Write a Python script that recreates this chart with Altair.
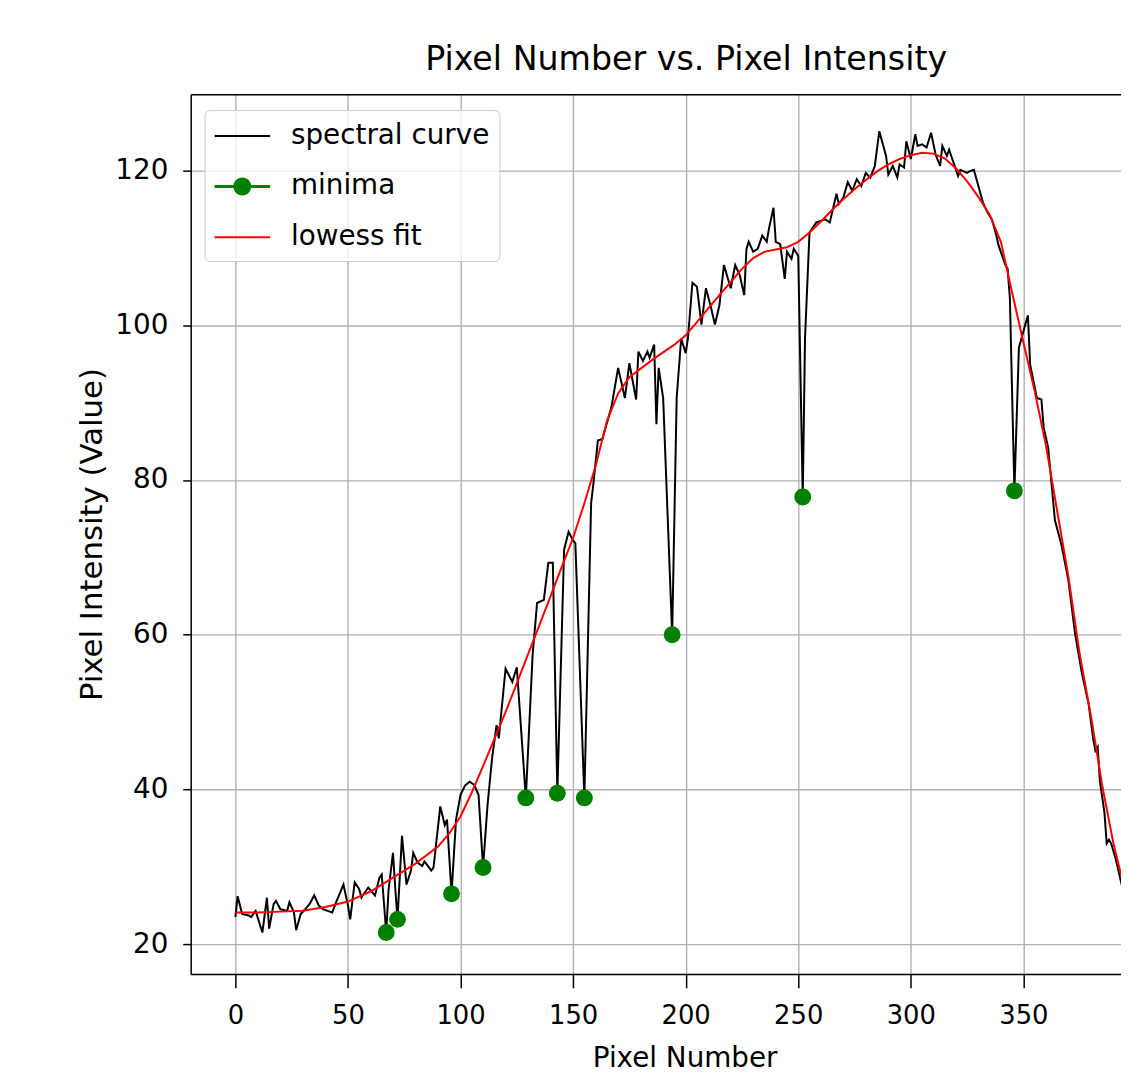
import altair as alt
import pandas as pd

# ---------------- data ----------------
spectral_x = [0, 1, 3, 6, 7, 9, 12, 14, 15, 17, 18, 20, 23, 24, 26, 27, 29, 31, 33, 35,
              37, 39, 41, 43, 45, 48, 50, 51, 53, 55, 56, 58, 59, 62, 64, 65, 67, 68, 70, 71,
              72, 74, 76, 78, 79, 81, 83, 84, 87, 88, 91, 93, 94, 96, 98, 100, 102, 104, 106, 108,
              110, 112, 114, 116, 117, 120, 123, 125, 129, 132, 134, 137, 139, 141, 143, 146, 148, 150, 151, 155,
              158, 159, 161, 163, 167, 170, 173, 175, 178, 179, 181, 183, 184, 186, 187, 188, 190, 194, 196, 198,
              200, 201, 203, 205, 207, 209, 211, 213, 215, 217, 220, 222, 224, 226, 227, 228, 230, 232, 234, 236,
              237, 239, 240, 242, 244, 245, 247, 248, 250, 252, 253, 255, 258, 262, 264, 267, 268, 270, 272, 274,
              276, 278, 280, 282, 284, 286, 289, 290, 292, 294, 295, 297, 298, 300, 302, 303, 305, 307, 309, 311,
              313, 314, 316, 317, 319, 321, 322, 325, 326, 328, 330, 332, 334, 336, 338, 339, 342, 343, 344, 346,
              348, 350, 352, 353, 356, 358, 359, 361, 364, 367, 370, 373, 376, 379, 381, 382, 383, 384, 386, 387,
              388, 389, 391, 393, 395, 397]
spectral_y = [23.5, 26.2, 23.9, 23.7, 23.5, 24.3, 21.5, 26.0, 22.0, 25.2, 25.6, 24.5, 24.3, 25.4, 24.1, 21.8, 23.9, 24.5, 25.2, 26.3,
              25.0, 24.5, 24.3, 24.1, 25.6, 27.7, 25.0, 23.2, 28.0, 27.1, 26.0, 26.9, 27.3, 26.3, 28.6, 29.0, 21.5, 26.9, 31.8, 27.3,
              23.2, 34.0, 27.7, 29.5, 31.8, 30.5, 30.1, 30.7, 29.5, 29.9, 37.8, 35.4, 36.1, 26.5, 36.1, 39.3, 40.5, 41.0, 40.6, 39.3,
              29.9, 38.0, 44.0, 48.3, 46.6, 55.6, 53.9, 55.8, 38.9, 57.3, 64.1, 64.5, 69.3, 69.3, 39.5, 71.0, 73.3, 72.2, 71.8, 38.9,
              77.0, 79.5, 85.1, 85.3, 89.4, 94.5, 90.6, 95.1, 90.4, 96.6, 95.4, 96.6, 95.8, 97.5, 87.2, 94.5, 90.6, 60.0, 90.6, 98.3,
              96.4, 98.3, 105.5, 105.0, 100.1, 104.8, 102.6, 100.1, 102.6, 107.8, 104.8, 107.8, 106.5, 103.9, 109.9, 110.8, 109.5, 109.9, 111.6, 110.8,
              112.5, 115.2, 110.8, 110.5, 106.0, 109.5, 108.6, 109.9, 109.0, 77.8, 98.3, 112.0, 113.3, 113.7, 113.3, 117.0, 115.7, 116.5, 118.5, 117.4,
              118.9, 118.0, 119.7, 119.1, 120.6, 125.1, 121.9, 119.5, 120.6, 119.1, 120.8, 120.4, 123.8, 121.5, 124.7, 123.2, 123.4, 123.0, 124.9, 122.1,
              120.6, 123.2, 121.9, 122.7, 121.0, 119.3, 120.1, 119.7, 119.9, 120.1, 118.0, 115.9, 114.6, 113.7, 111.6, 110.3, 107.8, 107.3, 103.5, 78.6,
              97.1, 99.2, 101.3, 94.9, 90.6, 90.4, 86.8, 84.2, 74.8, 71.5, 67.0, 60.0, 55.0, 51.0, 46.5, 45.0, 45.5, 41.0, 37.0, 33.0,
              33.5, 33.0, 31.0, 28.5, 26.0, 24.0]

minima_x = [67, 72, 96, 110, 129, 143, 155, 194, 252, 346]
minima_y = [21.5, 23.2, 26.5, 29.9, 38.9, 39.5, 38.9, 60.0, 77.8, 78.6]

lowess_x = [0, 10, 20, 30, 40, 50, 60, 70, 80, 90,
            95, 100, 105, 110, 115, 120, 125, 130, 135, 140,
            145, 150, 155, 160, 165, 170, 175, 180, 185, 190,
            195, 200, 205, 210, 215, 220, 225, 230, 235, 240,
            245, 250, 255, 260, 265, 270, 275, 280, 285, 290,
            295, 300, 305, 310, 315, 320, 325, 330, 335, 340,
            345, 350, 355, 360, 365, 370, 375, 380, 385, 390,
            395, 397]
lowess_y = [24.1, 24.1, 24.2, 24.3, 24.8, 25.5, 26.8, 28.6, 30.4, 32.6,
            34.3, 36.5, 39.6, 43.0, 46.5, 50.0, 53.7, 57.5, 61.2, 65.0,
            68.8, 72.5, 77.0, 81.8, 87.6, 91.2, 93.3, 94.4, 95.5, 96.5,
            97.5, 98.7, 100.4, 102.2, 103.9, 105.6, 107.3, 108.7, 109.5, 109.8,
            110.1, 110.8, 112.0, 113.4, 114.9, 116.3, 117.6, 118.8, 119.9, 120.8,
            121.5, 122.0, 122.3, 122.2, 121.6, 120.3, 118.6, 116.6, 114.3, 110.8,
            104.2, 97.8, 91.5, 84.5, 76.0, 67.5, 57.5, 49.5, 40.5, 33.0,
            27.0, 25.0]

x_ticks = [0, 50, 100, 150, 200, 250, 300, 350, 400]
y_ticks = [20, 40, 60, 80, 100, 120]
series_names = ["spectral curve", "minima", "lowess fit"]
series_colors = ["black", "green", "red"]

# ---------------- styling ----------------
FONT = "DejaVu Sans"
W, H = 937, 886
GRID = "#b0b0b0"

x_scale = alt.Scale(domain=[-19.85, 393.35], nice=False, zero=False)
y_scale = alt.Scale(domain=[16.15, 129.88], nice=False, zero=False)

spec_df = pd.DataFrame({"x": spectral_x, "y": spectral_y})
min_df = pd.DataFrame({"x": minima_x, "y": minima_y})
low_df = pd.DataFrame({"x": lowess_x, "y": lowess_y})
legend_df = pd.DataFrame({"series": series_names})

y_axis = alt.Axis(values=y_ticks, grid=True, gridColor=GRID, gridWidth=1.4,
                  domain=True, domainColor="black", domainWidth=1.5,
                  ticks=True, tickColor="black", tickWidth=1.5, tickSize=8,
                  labelFont=FONT, labelFontSize=28, labelColor="black", labelPadding=15,
                  labelFlush=False,
                  title="Pixel Intensity (Value)", titleFont=FONT, titleFontSize=31,
                  titleFontWeight="normal", titleColor="black",
                  titleX=-90, titleY=H / 2, titleAngle=270,
                  titleBaseline="alphabetic", titleAlign="center")

x_axis = alt.Axis(values=x_ticks, grid=True, gridColor=GRID, gridWidth=1.4,
                  domain=True, domainColor="black", domainWidth=1.5,
                  ticks=True, tickColor="black", tickWidth=1.5, tickSize=14,
                  labelFont=FONT, labelFontSize=26, labelColor="black", labelPadding=15,
                  labelFlush=False, labelOverlap=False,
                  title="Pixel Number", titleFont=FONT, titleFontSize=28,
                  titleFontWeight="normal", titleColor="black",
                  titleX=497.5, titleY=93, titleBaseline="alphabetic", titleAlign="center")

x_top_axis = alt.Axis(orient="top", grid=False, ticks=False, labels=False, title="",
                      domain=True, domainColor="black", domainWidth=1.5)

# legend glyphs (unit = 16 px; symbol centre sits 16 px into each entry)
legend_shapes = [
    "M-1,-0.0625L2.5,-0.0625L2.5,0.0625L-1,0.0625Z",
    "M-1,-0.094L2.5,-0.094L2.5,0.094L-1,0.094Z"
    "M0.1875,0A0.5625,0.5625,0,1,1,1.3125,0A0.5625,0.5625,0,1,1,0.1875,0Z",
    "M-1,-0.0625L2.5,-0.0625L2.5,0.0625L-1,0.0625Z",
]

leg = alt.Legend(title=None, orient="none", legendX=14, legendY=16, direction="vertical",
                 fillColor="rgba(255,255,255,0.8)", strokeColor="#cccccc",
                 cornerRadius=5, padding=10, symbolSize=1024, symbolStrokeWidth=0,
                 symbolOpacity=1, labelFont=FONT, labelFontSize=28, labelColor="black",
                 labelOffset=45, rowPadding=21, labelLimit=400)

spectral = alt.Chart(spec_df).mark_line(color="black", strokeWidth=2, clip=True).encode(
    x=alt.X("x:Q", scale=x_scale, axis=x_axis),
    y=alt.Y("y:Q", scale=y_scale, axis=y_axis),
)

minima = alt.Chart(min_df).mark_circle(color="green", size=290, opacity=1, clip=True).encode(
    x=alt.X("x:Q", scale=x_scale, axis=None),
    y=alt.Y("y:Q", scale=y_scale, axis=y_axis),
)

lowess = alt.Chart(low_df).mark_line(color="red", strokeWidth=2, clip=True).encode(
    x=alt.X("x:Q", scale=x_scale, axis=x_top_axis),
    y=alt.Y("y:Q", scale=y_scale, axis=y_axis),
)

legend_layer = alt.Chart(legend_df).mark_point(filled=True, opacity=1, size=1024).encode(
    color=alt.Color("series:N", scale=alt.Scale(domain=series_names, range=series_colors), legend=leg),
    shape=alt.Shape("series:N", scale=alt.Scale(domain=series_names, range=legend_shapes), legend=leg),
).transform_filter("false")

chart = alt.layer(spectral, minima, lowess, legend_layer).resolve_axis(
    x="independent"
).properties(
    width=W,
    height=H,
    autosize=alt.AutoSizeParams(type="none"),
    padding={"left": 184, "top": 83, "right": 0, "bottom": 96},
    title=alt.TitleParams(text="Pixel Number vs. Pixel Intensity", font=FONT, fontSize=33.5,
                          fontWeight="normal", color="black", anchor="middle", dx=30.5,
                          dy=32, offset=23, baseline="alphabetic"),
).configure_view(strokeWidth=0).configure_legend(strokeWidth=1.4).configure(background="white")

chart.save("out.html", embed_options={"renderer": "svg", "actions": False})
